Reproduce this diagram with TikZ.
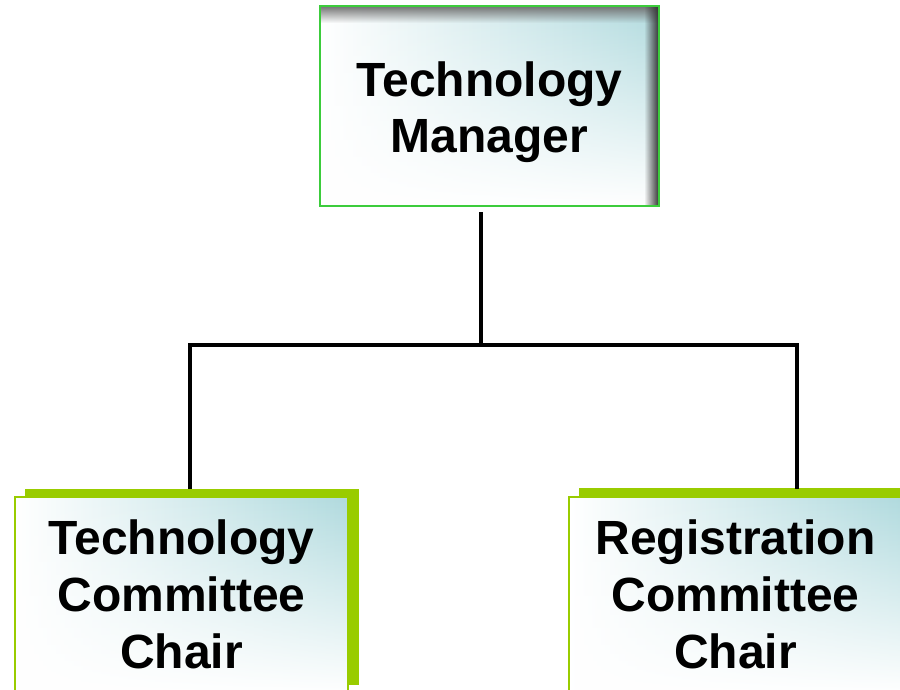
\documentclass[tikz,border=0pt]{standalone}
\usepackage{fontspec}
\setmainfont{Liberation Sans}
\usetikzlibrary{fadings}
\definecolor{tealc}{RGB}{176,218,222}
\definecolor{topgreen}{RGB}{60,204,60}
\definecolor{limeg}{RGB}{153,204,0}
\tikzfading[name=fadeS, top color=transparent!0, bottom color=transparent!100]
\tikzfading[name=fadeW, left color=transparent!100, right color=transparent!0]
\tikzfading[name=fadeUp, top color=transparent!100, bottom color=transparent!0]
\begin{document}
\begin{tikzpicture}[x=1pt,y=-1pt,
  grad/.style={path picture={
    \shade[left color=white,right color=tealc] (path picture bounding box.south west) rectangle (path picture bounding box.north east);
    \fill[white,path fading=fadeUp] (path picture bounding box.south west) rectangle (path picture bounding box.north east);
  }},
  topshadow/.style={path picture={
    \shade[left color=white,right color=tealc] (path picture bounding box.south west) rectangle (path picture bounding box.north east);
    \fill[white,path fading=fadeUp] (path picture bounding box.south west) rectangle (path picture bounding box.north east);
    \fill[black!55,path fading=fadeS] (path picture bounding box.north west) rectangle ([yshift=-17pt]path picture bounding box.north east);
    \fill[black!80,path fading=fadeW] ([xshift=-15pt]path picture bounding box.north east) rectangle (path picture bounding box.south east);
  }},
  topbox/.style={rectangle, inner sep=0pt, draw=topgreen, line width=2pt, topshadow, minimum width=339pt, minimum height=200pt},
  subbox/.style={rectangle, inner sep=0pt, draw=limeg, line width=1.6pt, grad, minimum width=333pt, minimum height=196pt},
  backrect/.style={fill=limeg},
  label/.style={font=\fontsize{48}{56}\selectfont\bfseries, align=center, inner sep=0pt, text=black},
  sublabel/.style={font=\fontsize{48}{57}\selectfont\bfseries, align=center, inner sep=0pt, text=black},
  conn/.style={line width=4pt, black, line cap=rect}
]
\useasboundingbox (0,0) rectangle (900,690);
\clip (0,0) rectangle (900,690);

% top box
\node[topbox] (tm) at (489.5,106) {};
\node[label] (tmt) at (489.5,112.5) {Technology\\Manager};

% bottom-left
\fill[backrect] (25,489) rectangle (359,685);
\node[subbox] (tc) at (181.5,595) {};
\node[sublabel] (tct) at (181.5,594.5) {Technology\\Committee\\Chair};

% bottom-right
\fill[backrect] (579,488) rectangle (913,685);
\node[subbox] (rc) at (735.5,595) {};
\node[sublabel] (rct) at (735.5,594.5) {Registration\\Committee\\Chair};

% connectors
\coordinate (a) at (481,214);
\coordinate (j) at (481,345);
\coordinate (l) at (190,345);
\coordinate (r) at (797,345);
\coordinate (lb) at (190,487);
\coordinate (rb) at (797,487);
\draw[conn] (a) -- (j);
\draw[conn] (l) -- (r);
\draw[conn] (l) -- (lb);
\draw[conn] (r) -- (rb);
\end{tikzpicture}
\end{document}
